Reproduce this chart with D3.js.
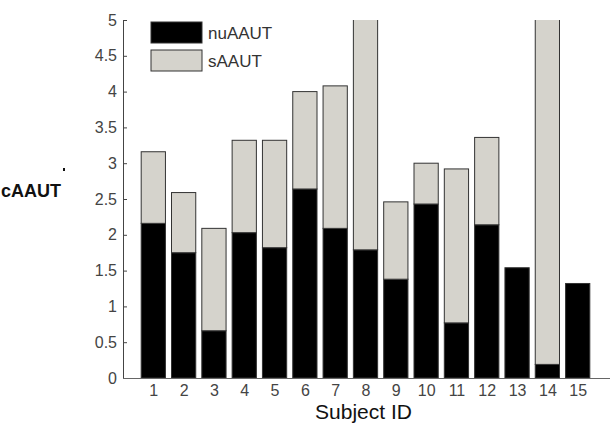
<!DOCTYPE html>
<html lang='en'>
<head>
   <meta charset='UTF-8'>
   <title>cAAUT by subject</title>
   <script src='https://d3js.org/d3.v7.min.js'></script>
   <style>
      body { margin: 0; background: #fff; }
      svg { display: block; font-family: 'Liberation Sans', Arial, sans-serif; }
   </style>
</head>
<body>
   <div id='svg-container'></div>
   <script>
      const subjects = [1, 2, 3, 4, 5, 6, 7, 8, 9, 10, 11, 12, 13, 14, 15];
      const nuAAUT = [2.16, 1.75, 0.66, 2.03, 1.82, 2.64, 2.09, 1.79, 1.38, 2.43, 0.77, 2.14, 1.54, 0.19, 1.32];
      const sAAUT = [1.00, 0.84, 1.43, 1.29, 1.50, 1.36, 1.99, 4.50, 1.08, 0.57, 2.15, 1.22, 0, 5.50, 0];
      const yTicks = [0, 0.5, 1, 1.5, 2, 2.5, 3, 3.5, 4, 4.5, 5];
      const seriesNames = ['nuAAUT', 'sAAUT'];
      const seriesColours = ['#000000', '#d5d3cc'];

      const W = 610, H = 440;
      const plot = { left: 123, right: 608, top: 20, bottom: 378 };

      const svg = d3.select('#svg-container').append('svg').attr('width', W).attr('height', H);

      const x = d3.scaleLinear().domain([0, 16]).range([plot.left, plot.right]);
      const y = d3.scaleLinear().domain([0, 5]).range([plot.bottom, plot.top]);
      const barW = (x(1) - x(0)) * 0.8;

      const table = subjects.map((s, i) => ({ id: s, nuAAUT: nuAAUT[i], sAAUT: sAAUT[i] }));
      const stacked = d3.stack().keys(seriesNames)(table);

      svg.append('clipPath').attr('id', 'clip')
         .append('rect')
         .attr('x', plot.left).attr('y', plot.top)
         .attr('width', plot.right - plot.left).attr('height', plot.bottom - plot.top);

      const bars = svg.append('g').attr('clip-path', 'url(#clip)');
      stacked.forEach((layer, k) => {
         bars.append('g')
            .selectAll('rect')
            .data(layer.filter(d => d[1] - d[0] > 0))
            .join('rect')
            .attr('x', d => x(d.data.id) - barW / 2)
            .attr('width', barW)
            .attr('y', d => y(d[1]))
            .attr('height', d => y(d[0]) - y(d[1]))
            .attr('fill', seriesColours[k])
            .attr('stroke', '#333')
            .attr('stroke-width', 1);
      });

      // y axis, ticks pointing inward like matlab
      const yAxis = svg.append('g')
         .attr('transform', `translate(${plot.left},0)`)
         .call(d3.axisRight(y).tickValues(yTicks).tickSize(4).tickFormat(d3.format('~g')));
      yAxis.select('.domain').attr('stroke', '#444');
      yAxis.selectAll('.tick line').attr('stroke', '#444');
      yAxis.selectAll('.tick text')
         .attr('x', -6)
         .attr('text-anchor', 'end')
         .attr('fill', '#444')
         .attr('font-size', 16);

      const xAxis = svg.append('g')
         .attr('transform', `translate(0,${plot.bottom})`)
         .call(d3.axisBottom(x).tickValues(subjects).tickSize(0).tickPadding(7));
      xAxis.select('.domain').attr('stroke', '#666').attr('d', `M${plot.left},0.5H${W}`);
      xAxis.selectAll('.tick text').attr('fill', '#444').attr('font-size', 16);

      svg.append('text')
         .attr('x', x(8) - 2).attr('y', 419)
         .attr('text-anchor', 'middle')
         .attr('font-size', 21)
         .attr('fill', '#111')
         .text('Subject ID');

      svg.append('text')
         .attr('x', 1).attr('y', 197)
         .attr('font-size', 18)
         .attr('font-weight', 'bold')
         .attr('fill', '#111')
         .text('cAAUT');
      svg.append('rect').attr('x', 63).attr('y', 168).attr('width', 2).attr('height', 3).attr('fill', '#111');

      const legend = svg.append('g').attr('transform', 'translate(151,22)');
      seriesNames.forEach((name, i) => {
         const row = legend.append('g').attr('transform', `translate(0,${i * 28})`);
         row.append('rect')
            .attr('width', 51).attr('height', 21)
            .attr('fill', seriesColours[i])
            .attr('stroke', '#333');
         row.append('text')
            .attr('x', 57).attr('y', 17)
            .attr('font-size', 17)
            .attr('fill', '#333')
            .text(name);
      });
   </script>
</body>
</html>
